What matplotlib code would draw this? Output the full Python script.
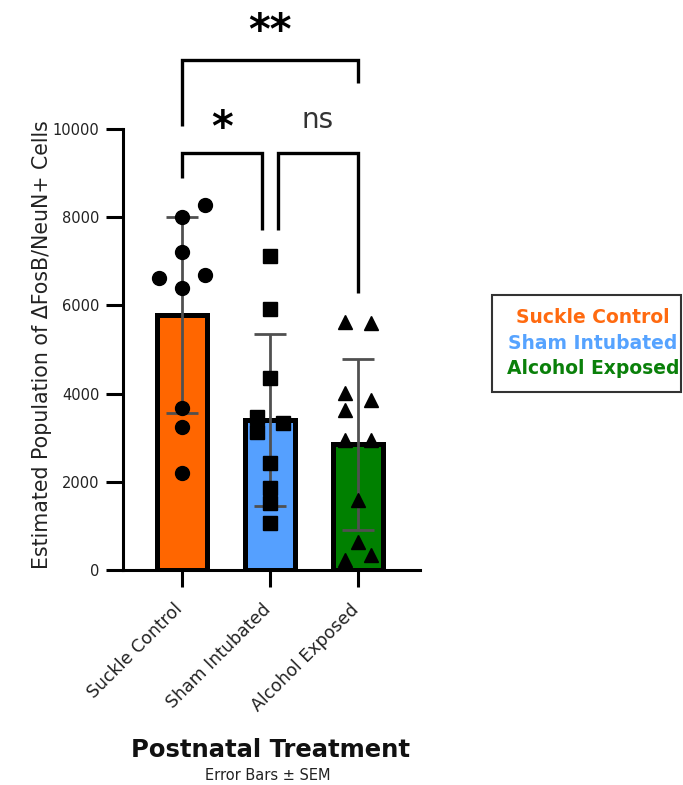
#!/usr/bin/env python3
"""Bar chart of estimated dFosB/NeuN+ cell counts by postnatal treatment."""

import matplotlib

matplotlib.use("Agg")
import matplotlib.pyplot as plt
from matplotlib.patches import Rectangle
from matplotlib.transforms import ScaledTranslation

# values
groups = ["Suckle Control", "Sham Intubated", "Alcohol Exposed"]
bar_means = [5780, 3400, 2850]
bar_errors = [2220, 1940, 1940]
suckle_values = [8280, 8010, 7220, 6630, 6690, 6400, 3670, 3240, 2190]
sham_values = [7120, 5910, 4350, 3470, 3330, 3140, 2420, 1850, 1510, 1060]
alcohol_values = [5630, 5590, 4010, 3850, 3630, 2950, 2950, 1590, 640, 230, 340]
comparisons = [(0, 2, "**"), (0, 1, "*"), (1, 2, "ns")]
y_ticks = [0, 2000, 4000, 6000, 8000, 10000]

# layout / styling
bar_colors = ["#ff6600", "#55a0ff", "#008000"]
text_colors = ["#ff6a10", "#56a3ff", "#0a800a"]
markers = ["o", "s", "^"]
marker_sizes = [10, 9.5, 10.5]
point_slots = [
    [1, 0, 0, -1, 1, 0, 0, 0, 0],
    [0, 0, 0, -1, 1, -1, 0, 0, 0, 0],
    [-1, 1, -1, 1, -1, -1, 1, 0, 0, -1, 1],
]
slot_spread = [0.26, 0.15, 0.15]
# (bracket top, left drop end, right drop end, text y)
bracket_layout = {
    (0, 2): (11565, 10068, 11043, 12200),
    (0, 1): (9456, 8889, 7710, 10000),
    (1, 2): (9456, 7710, 6281, 10200),
}
middle_inset = 0.09

plt.rcParams["font.family"] = ["DejaVu Sans"]

fig = plt.figure(figsize=(6.83, 7.85), dpi=100)
ax = fig.add_axes([0.1801, 0.2739, 0.4348, 0.5618])

x = list(range(len(groups)))
ax.bar(x, bar_means, width=0.57, color=bar_colors, edgecolor="black",
       linewidth=3.6, zorder=1)
ax.errorbar(x, bar_means, yerr=bar_errors, fmt="none", ecolor="#505050",
            elinewidth=2, capsize=11.5, capthick=2, zorder=2)

for i, values in enumerate([suckle_values, sham_values, alcohol_values]):
    xs = [i + s * slot_spread[i] for s in point_slots[i]]
    ax.plot(xs, values, linestyle="none", marker=markers[i], color="black",
            markersize=marker_sizes[i], zorder=3)

# significance brackets
for left, right, label in comparisons:
    top, left_end, right_end, text_y = bracket_layout[(left, right)]
    x0 = left + middle_inset if left == 1 else left
    x1 = right - middle_inset if right == 1 else right
    ax.plot([x0, x0, x1, x1], [left_end, top, top, right_end], color="black",
            linewidth=2.4, clip_on=False, solid_joinstyle="miter",
            solid_capstyle="butt", zorder=4)
    if label == "ns":
        ax.text((x0 + x1) / 2, text_y, label, ha="center", va="center",
                fontsize=20, color="#333333", clip_on=False)
    else:
        ax.text((x0 + x1) / 2, text_y, label, ha="center", va="center",
                fontsize=30, fontweight="bold", color="black", clip_on=False)

ax.set_xlim(-0.67, 2.705)
ax.set_ylim(0, 10000)
ax.set_yticks(y_ticks)
ax.set_yticklabels([str(v) for v in y_ticks], fontsize=10.5, color="#222222")
ax.set_xticks(x)
ax.set_xticklabels(groups, rotation=45, ha="right", va="top",
                   rotation_mode="anchor", fontsize=12.5, color="#222222")
ax.tick_params(axis="both", length=12, width=2.2, color="black")
ax.tick_params(axis="y", pad=5)
ax.tick_params(axis="x", pad=7)
# nudge the slanted labels after tick_params, which resets their transforms
shift = ScaledTranslation(-0.085, -0.04, fig.dpi_scale_trans)
for tick_label in ax.get_xticklabels():
    tick_label.set_transform(tick_label.get_transform() + shift)

ax.spines[["top", "right"]].set_visible(False)
ax.spines["left"].set_linewidth(2.2)
ax.spines["bottom"].set_linewidth(2.2)

ax.set_ylabel("Estimated Population of \u0394FosB/NeuN+ Cells", fontsize=14.8,
              color="#222222", va="center")
ax.yaxis.set_label_coords(-0.273, 0.51)
ax.set_xlabel("Postnatal Treatment", fontsize=17.5, fontweight="bold",
              color="#111111")
ax.xaxis.set_label_coords(0.495, -0.38)
fig.text(268 / 683, 1 - 776 / 785, "Error Bars \u00b1 SEM", ha="center",
         va="center", fontsize=10.5, color="#222222")

# legend box
fig.patches.append(Rectangle((0.7204, 0.5006), 0.2767, 0.1236,
                             transform=fig.transFigure, fill=False,
                             edgecolor="#333333", linewidth=1.5))
for label, color, y in zip(groups, text_colors, [0.596, 0.563, 0.531]):
    fig.text(0.868, y, label, ha="center", va="center", fontsize=13.5,
             fontweight="bold", color=color)

fig.savefig("out.png", dpi=100)
